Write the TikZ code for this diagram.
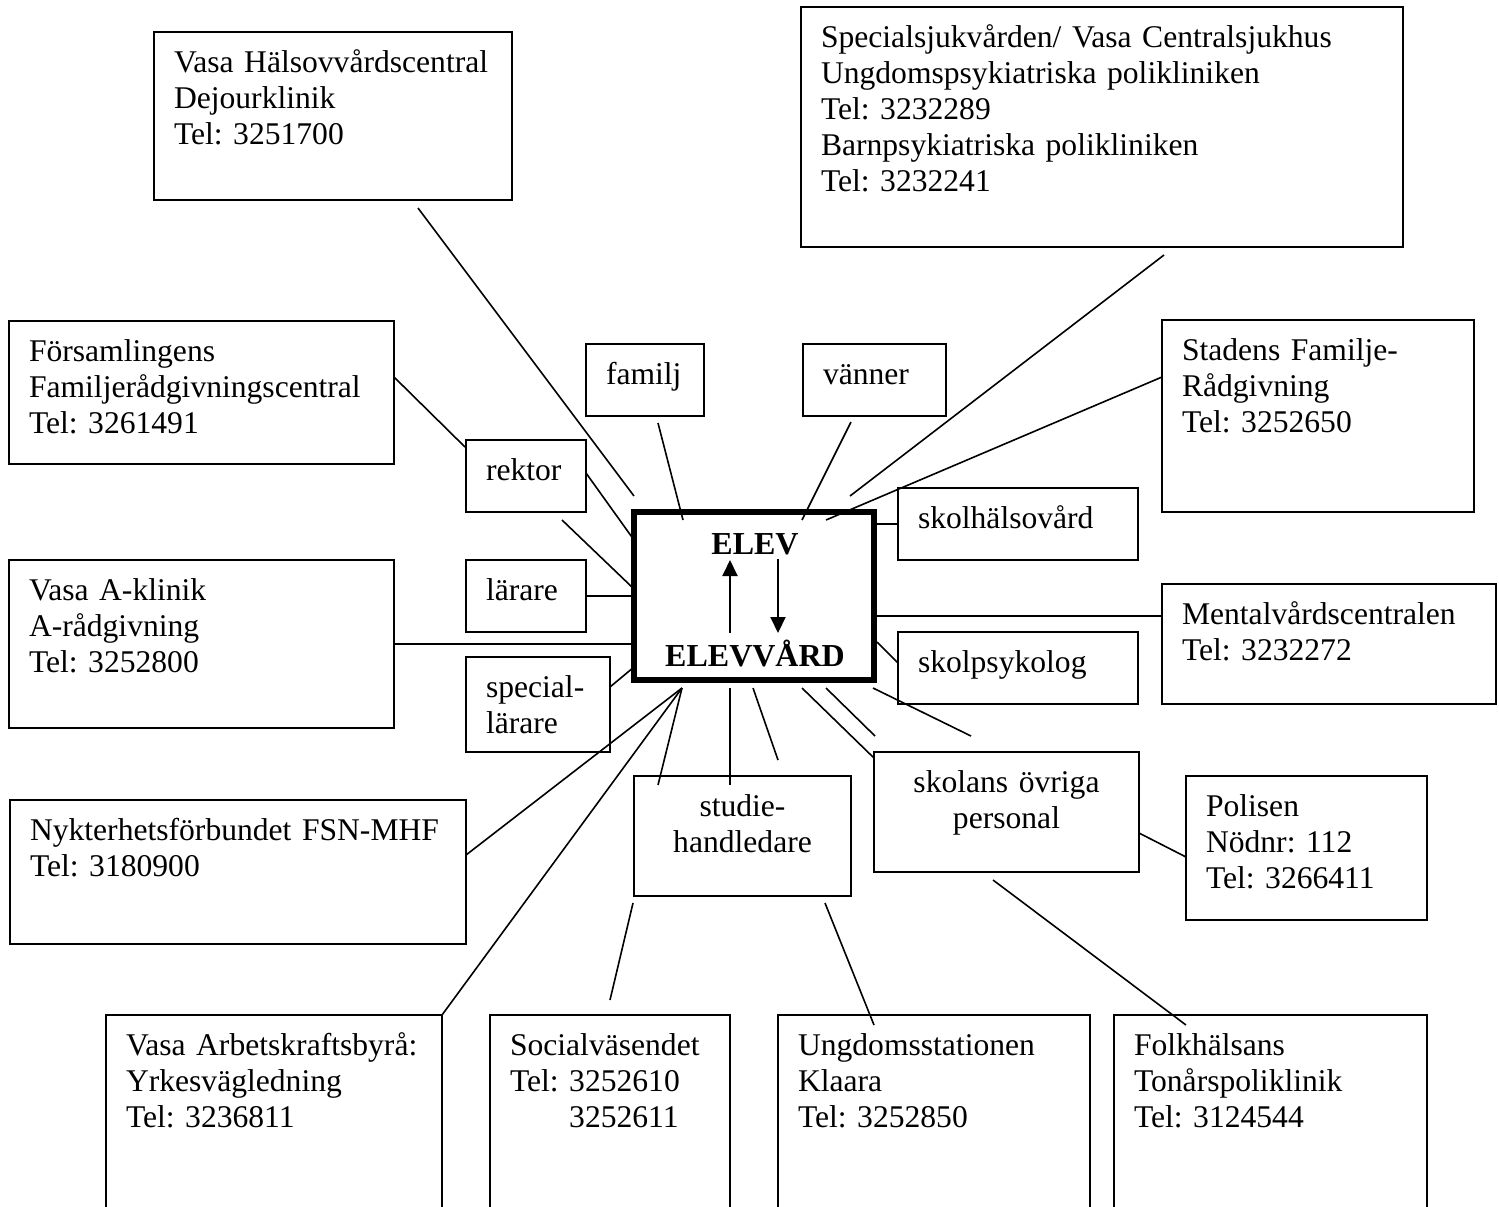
\documentclass[tikz,border=0pt]{standalone}
\usepackage{fontspec}
\setmainfont{Liberation Serif}
\usetikzlibrary{arrows.meta}
\frenchspacing

\tikzset{
  info/.style={draw, line width=0.8pt, anchor=north west, outer sep=0pt,
    align=left, font=\fontsize{15.8}{18}\selectfont,
    text height=12.6pt, inner xsep=10pt, inner ysep=7.4pt},
  core/.style={draw, line width=2.6pt, anchor=north west, outer sep=0pt,
    minimum width=120pt, minimum height=84pt},
  coretext/.style={font=\fontsize{16}{18}\selectfont\bfseries, inner sep=0pt},
  link/.style={line width=0.8pt},
  flow/.style={line width=1pt, -{Triangle[length=8pt,width=7.5pt]}},
}

\begin{document}
\begin{tikzpicture}[x=0.5pt,y=-0.5pt]
  \useasboundingbox (0,0) rectangle (1499,1206);
  \fill[white] (0,0) rectangle (1499,1206);
  \clip (0,0) rectangle (1499,1206);

  % centre
  \node[core] (elev) at (634,512) {};
  \node[coretext] (eleva) at (755,544) {ELEV};
  \node[coretext] (elevb) at (755,653) {ELEVVÅRD};
  \coordinate (up-a) at (730,633);
  \coordinate (up-b) at (730,560);
  \coordinate (dn-a) at (778,559);
  \coordinate (dn-b) at (778,633);
  \draw[flow] (up-a) -- (up-b);
  \draw[flow] (dn-a) -- (dn-b);

  % boxes round the centre
  \node[info, text width=159pt, text depth=56.6pt] (hals) at (154,32)
    {Vasa Hälsovvårdscentral\\Dejourklinik\\Tel: 3251700};
  \node[info, text width=281pt, text depth=92.6pt] (spec) at (801,7)
    {Specialsjukvården/ Vasa Centralsjukhus\\Ungdomspsykiatriska polikliniken\\Tel: 3232289\\Barnpsykiatriska polikliniken\\Tel: 3232241};
  \node[info, text width=172.5pt, text depth=44.1pt] (fors) at (9,321)
    {Församlingens\\Familjerådgivningscentral\\Tel: 3261491};
  \node[info, text width=39pt, text depth=8.6pt] (familj) at (586,344) {familj};
  \node[info, text width=51.5pt, text depth=8.6pt] (vanner) at (803,344) {vänner};
  \node[info, text width=136pt, text depth=68.6pt] (stad) at (1162,320)
    {Stadens Familje-\\Rådgivning\\Tel: 3252650};
  \node[info, text width=40pt, text depth=8.6pt] (rektor) at (466,440) {rektor};
  \node[info, text width=100pt, text depth=8.6pt] (skolh) at (898,488) {skolhälsovård};
  \node[info, text width=40pt, text depth=8.6pt] (larare) at (466,560) {lärare};
  \node[info, text width=172.5pt, text depth=56.6pt] (aklin) at (9,560)
    {Vasa A-klinik\\A-rådgivning\\Tel: 3252800};
  \node[info, text width=147pt, text depth=32.6pt] (mental) at (1162,584)
    {Mentalvårdscentralen\\Tel: 3232272};
  \node[info, text width=100pt, text depth=8.6pt] (skolp) at (898,632) {skolpsykolog};
  \node[info, text width=52pt, text depth=20.1pt] (spl) at (466,657) {special-\\lärare};
  \node[info, text width=208pt, text depth=44.6pt] (nykt) at (10,800)
    {Nykterhetsförbundet FSN-MHF\\Tel: 3180900};
  \node[info, align=center, text width=88.5pt, text depth=32.6pt] (studie) at (634,776)
    {studie-\\handledare};
  \node[info, align=center, text width=112.5pt, text depth=32.6pt] (skolans) at (874,752)
    {skolans övriga\\personal};
  \node[info, text width=100.5pt, text depth=44.6pt] (polis) at (1186,776)
    {Polisen\\Nödnr: 112\\Tel: 3266411};

  % bottom row
  \node[info, text width=148pt, text depth=85.1pt] (arbets) at (106,1015)
    {Vasa Arbetskraftsbyrå:\\Yrkesvägledning\\Tel: 3236811};
  \node[info, text width=100pt, text depth=85.1pt] (social) at (490,1015)
    {Socialväsendet\\Tel: 3252610\\\phantom{Tel: }3252611};
  \node[info, text width=136pt, text depth=85.1pt] (ungdom) at (778,1015)
    {Ungdomsstationen\\Klaara\\Tel: 3252850};
  \node[info, text width=136.5pt, text depth=85.1pt] (folk) at (1114,1015)
    {Folkhälsans\\Tonårspoliklinik\\Tel: 3124544};

  % line ends
  \coordinate (hals-a) at (418,208);
  \coordinate (hals-b) at (634,496);
  \coordinate (spec-a) at (1164,255);
  \coordinate (spec-b) at (850,496);
  \coordinate (stad-a) at (1162,377);
  \coordinate (stad-b) at (826,520);
  \coordinate (vanner-a) at (851,422);
  \coordinate (vanner-b) at (802,520);
  \coordinate (familj-a) at (658,423);
  \coordinate (familj-b) at (683,520);
  \coordinate (fors-a) at (394,377);
  \coordinate (fors-b) at (465,447);
  \coordinate (rektor-a) at (586,473);
  \coordinate (rektor-b) at (634,540);
  \coordinate (loose-a) at (562,520);
  \coordinate (loose-b) at (634,589);
  \coordinate (spl-a) at (610,687);
  \coordinate (spl-b) at (634,667);
  \coordinate (mental-a) at (1162,616);
  \coordinate (mental-b) at (874,616);
  \coordinate (skolp-a) at (877,642);
  \coordinate (skolp-b) at (898,663);
  \coordinate (fan) at (682,688);
  \coordinate (nykt-a) at (466,855);
  \coordinate (studie-a) at (658,785);
  \coordinate (mid-a) at (730,688);
  \coordinate (mid-b) at (730,785);
  \coordinate (ray1-a) at (753,688);
  \coordinate (ray1-b) at (778,760);
  \coordinate (ray2-a) at (802,688);
  \coordinate (ray2-b) at (874,758);
  \coordinate (ray3-a) at (826,688);
  \coordinate (ray3-b) at (875,736);
  \coordinate (ray4-a) at (873,688);
  \coordinate (ray4-b) at (971,736);
  \coordinate (polis-a) at (1139,833);
  \coordinate (polis-b) at (1186,857);
  \coordinate (folk-a) at (993,880);
  \coordinate (folk-b) at (1186,1025);
  \coordinate (social-a) at (633,903);
  \coordinate (social-b) at (610,1000);
  \coordinate (ungdom-a) at (825,903);
  \coordinate (ungdom-b) at (874,1025);

  \begin{scope}[every path/.style={link}]
    \draw (hals-a) -- (hals-b);
    \draw (spec-a) -- (spec-b);
    \draw (stad-a) -- (stad-b);
    \draw (vanner-a) -- (vanner-b);
    \draw (familj-a) -- (familj-b);
    \draw (fors-a) -- (fors-b);
    \draw (rektor-a) -- (rektor-b);
    \draw (loose-a) -- (loose-b);
    \draw (larare.east) -- (larare.east -| elev.west);
    \draw (aklin.east) -- (aklin.east -| elev.west);
    \draw (spl-a) -- (spl-b);
    \draw (skolh.west -| elev.east) -- (skolh.west);
    \draw (mental-a) -- (mental-b);
    \draw (skolp-a) -- (skolp-b);
    \draw (fan) -- (nykt-a);
    \draw (fan) -- (arbets.north east);
    \draw (fan) -- (studie-a);
    \draw (mid-a) -- (mid-b);
    \draw (ray1-a) -- (ray1-b);
    \draw (ray2-a) -- (ray2-b);
    \draw (ray3-a) -- (ray3-b);
    \draw (ray4-a) -- (ray4-b);
    \draw (polis-a) -- (polis-b);
    \draw (folk-a) -- (folk-b);
    \draw (social-a) -- (social-b);
    \draw (ungdom-a) -- (ungdom-b);
  \end{scope}

\end{tikzpicture}
\end{document}
